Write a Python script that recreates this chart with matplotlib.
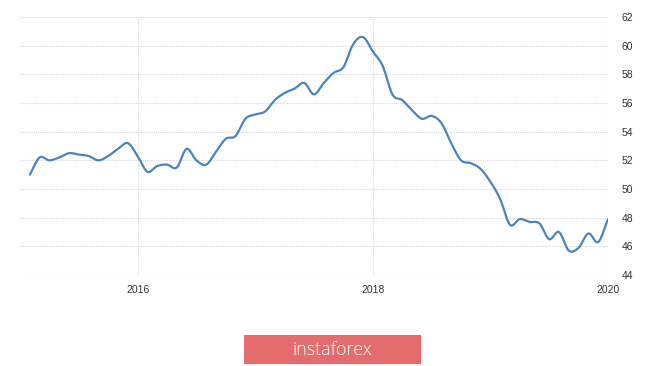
import numpy as np
import matplotlib
matplotlib.use("Agg")
import matplotlib.pyplot as plt
from matplotlib.patches import Rectangle

# Monthly values, Feb 2015 .. Jan 2020
start_year, start_month = 2015, 2
values = [51.0, 52.2, 52.0, 52.2, 52.5, 52.4, 52.3, 52.0, 52.3, 52.8, 53.2,
          52.3, 51.2, 51.6, 51.7, 51.5, 52.8, 52.0, 51.7, 52.6, 53.5, 53.7, 54.9,
          55.2, 55.4, 56.2, 56.7, 57.0, 57.4, 56.6, 57.4, 58.1, 58.5, 60.1, 60.6,
          59.6, 58.6, 56.6, 56.2, 55.5, 54.9, 55.1, 54.6, 53.2, 52.0, 51.8, 51.4,
          50.5, 49.3, 47.5, 47.9, 47.7, 47.6, 46.5, 47.0, 45.7, 45.9, 46.9, 46.3,
          47.9]
x_ticks = [2016, 2018, 2020]
x_labels = ["2016", "2018", "2020"]
y_ticks = [44, 46, 48, 50, 52, 54, 56, 58, 60, 62]
logo_text = "instaforex"

t = np.array([start_year + (start_month - 1 + i) / 12.0 for i in range(len(values))])
v = np.array(values)

# Smooth rendering (Catmull-Rom through the data points)
def catmull(xs, ys, n=12):
    px = np.concatenate([[2 * xs[0] - xs[1]], xs, [2 * xs[-1] - xs[-2]]])
    py = np.concatenate([[2 * ys[0] - ys[1]], ys, [2 * ys[-1] - ys[-2]]])
    ox, oy = [], []
    for i in range(1, len(px) - 2):
        s = np.linspace(0, 1, n, endpoint=False)
        for arr, out in ((px, ox), (py, oy)):
            p0, p1, p2, p3 = arr[i - 1], arr[i], arr[i + 1], arr[i + 2]
            out.extend(0.5 * ((2 * p1) + (-p0 + p2) * s + (2 * p0 - 5 * p1 + 4 * p2 - p3) * s**2
                              + (-p0 + 3 * p1 - 3 * p2 + p3) * s**3))
    ox.append(xs[-1]); oy.append(ys[-1])
    return np.array(ox), np.array(oy)

sx, sy = catmull(t, v)

fig = plt.figure(figsize=(6.65, 3.66), dpi=100)
ax = fig.add_axes([20 / 665, 1 - 275 / 366, 588 / 665, 258 / 366])
ax.plot(sx, sy, color="#4a84bf", lw=1.6, solid_capstyle="round")
ax.set_xlim(2015.0, 2020.0)
ax.set_ylim(44, 62)
ax.set_xticks(x_ticks)
ax.set_xticklabels(x_labels)
ax.set_yticks(y_ticks)
ax.yaxis.tick_right()
for s in ax.spines.values():
    s.set_visible(False)
ax.grid(True, color="#d6d6d6", linestyle=(0, (1, 1)), linewidth=0.8)
ax.tick_params(axis="both", length=0, labelsize=7.5, labelcolor="#333333")
for lab in ax.get_xticklabels() + ax.get_yticklabels():
    lab.set_family("Liberation Sans")
ax.tick_params(axis="y", pad=10)
ax.tick_params(axis="x", pad=7)

fig.patches.append(Rectangle((244 / 665, 1 - 364 / 366), 177 / 665, 29 / 366,
                             transform=fig.transFigure, facecolor="#e46c6e",
                             edgecolor="none"))
fig.text(332 / 665, 1 - 350 / 366, logo_text, color="white", fontsize=13,
         ha="center", va="center", family="Open Sans", fontweight="light")

fig.savefig("out.png", dpi=100)
